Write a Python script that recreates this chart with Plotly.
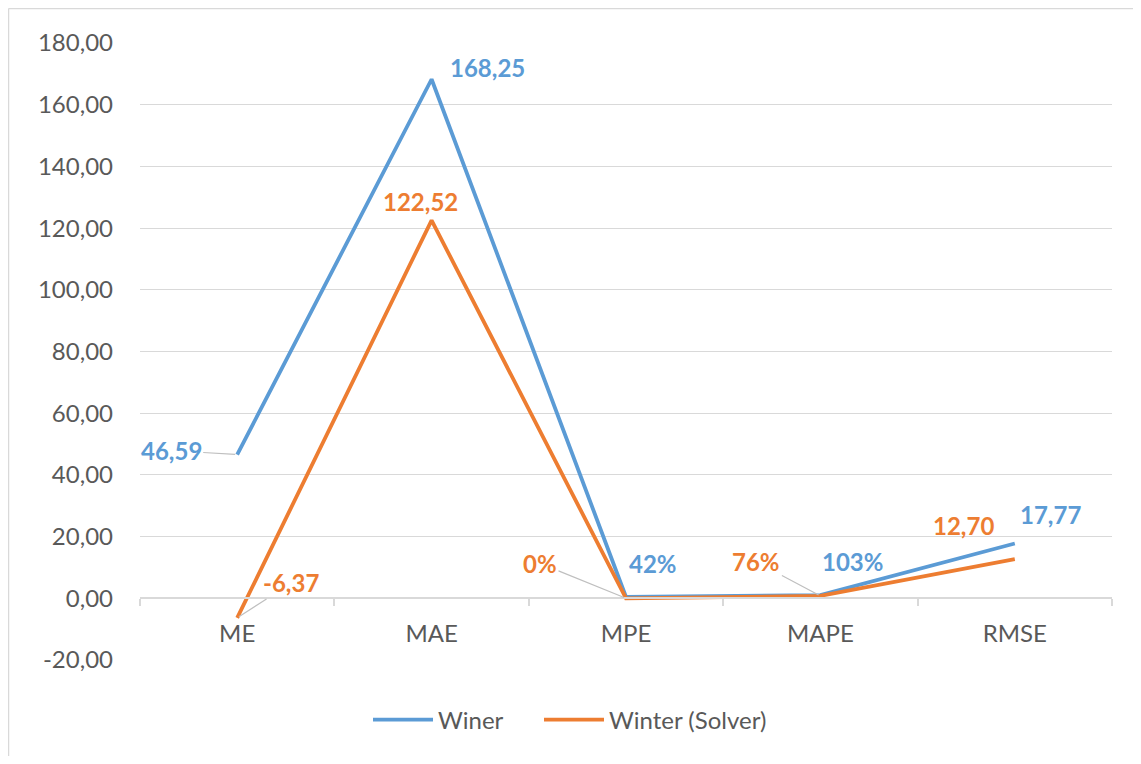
import plotly.graph_objects as go

categories = ["ME", "MAE", "MPE", "MAPE", "RMSE"]
winer = [46.59, 168.25, 0.42, 1.03, 17.77]
winter_solver = [-6.37, 122.52, 0.00, 0.76, 12.70]
label_kind = ["num", "num", "pct", "pct", "num"]
y_ticks = [-20, 0, 20, 40, 60, 80, 100, 120, 140, 160, 180]
series_names = ["Winer", "Winter (Solver)"]

BLUE = "#5B9BD5"
ORANGE = "#ED7D31"
GRID = "#D9D9D9"
TXT = "#595959"
FONT = "Lato, Open Sans, sans-serif"

YMIN, YMAX = -20, 180
OFF = 8  # page body margin
W, H = 1125, 748
ML, MT = 140 - OFF, 43 - OFF
PR, PB = 1112 - OFF, 660 - OFF
MR, MB = W - PR, H - PB
PW, PH = PR - ML, PB - MT


def fmt(v, kind):
    if kind == "pct":
        return f"{v*100:.0f}%"
    return f"{v:.2f}".replace(".", ",")


fig = go.Figure()
fig.add_trace(go.Scatter(x=categories, y=winer, mode="lines", name=series_names[0],
                         line=dict(color=BLUE, width=3.8), legend="legend"))
fig.add_trace(go.Scatter(x=categories, y=winter_solver, mode="lines", name=series_names[1],
                         line=dict(color=ORANGE, width=3.8), legend="legend2"))

# label placement styles: (showarrow, dx, dy) in pixels
blue_pos = [(True, -66, -4), (False, 56, 12), (False, 27, 34), (False, 32, 34), (False, 36, 29)]
orange_pos = [(True, 54, -35), (False, -11, 19), (True, -86, -35), (True, -64, -34), (False, -51, 34)]

ann = []
for vals, pos, col in [(winer, blue_pos, BLUE), (winter_solver, orange_pos, ORANGE)]:
    for c, v, k, (arrow, dx, dy) in zip(categories, vals, label_kind, pos):
        a = dict(x=c, y=v, xref="x", yref="y", text=fmt(v, k),
                 font=dict(family=FONT, size=24, color=col, weight="bold"))
        if arrow:
            a.update(showarrow=True, ax=dx, ay=dy, arrowhead=0, arrowwidth=1.2,
                     arrowcolor="#BFBFBF", standoff=2)
        else:
            a.update(showarrow=False, xshift=dx, yshift=dy)
        ann.append(a)


def px_x(p):
    return (p - OFF - ML) / PW


def px_y(p):
    return (PB - (p - OFF)) / PH


# outer chart border (left and top edges visible)
fig.add_shape(type="line", xref="paper", yref="paper",
              x0=px_x(8.5), x1=px_x(8.5), y0=px_y(764), y1=px_y(8.5),
              line=dict(color=GRID, width=1.5), layer="below")
fig.add_shape(type="line", xref="paper", yref="paper",
              x0=px_x(8.5), x1=px_x(1141), y0=px_y(8.5), y1=px_y(8.5),
              line=dict(color=GRID, width=1.5), layer="below")

leg_common = dict(orientation="h", xanchor="left", y=px_y(720), yanchor="middle",
                  font=dict(family=FONT, size=24, color=TXT), itemwidth=60)

fig.update_layout(
    width=W, height=H,
    margin=dict(l=ML, r=MR, t=MT, b=MB),
    paper_bgcolor="white", plot_bgcolor="white",
    annotations=ann,
    showlegend=True,
    legend=dict(x=px_x(368), **leg_common),
    legend2=dict(x=px_x(539), **leg_common),
    xaxis=dict(type="category", range=[-0.5, 4.5], tickson="boundaries",
               ticks="outside", ticklen=7, tickcolor=GRID, tickwidth=1.5,
               showline=True, linecolor=GRID, linewidth=1.5, showgrid=False,
               anchor="free", position=(0 - YMIN) / (YMAX - YMIN),
               tickfont=dict(family=FONT, size=24, color=TXT), ticklabelstandoff=14),
    yaxis=dict(range=[YMIN, YMAX], tickvals=y_ticks,
               ticktext=[f"{t:.2f}".replace(".", ",") for t in y_ticks],
               showgrid=True, gridcolor=GRID, gridwidth=1.2, zeroline=False,
               showline=False, ticks="", ticklabelstandoff=26,
               tickfont=dict(family=FONT, size=24, color=TXT)),
)

fig.write_html("out.html")
